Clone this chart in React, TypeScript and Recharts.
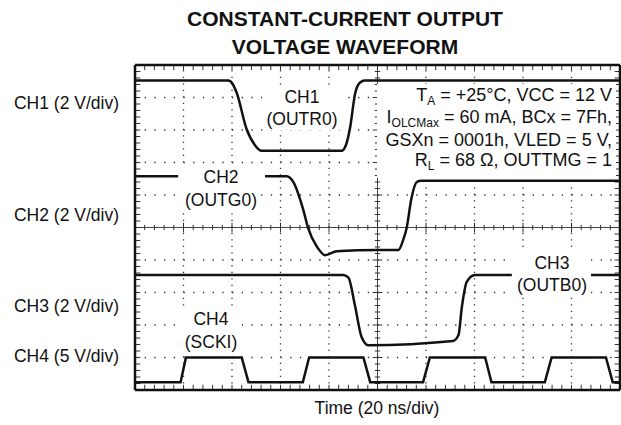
import React from "react";
import { LineChart, Line, XAxis, YAxis, ReferenceLine } from "recharts";

// Time axis in divisions (20 ns/div), amplitude in screen divisions (0 = bottom)
const ch1 = [
  { t: 0, v: 9.52 }, { t: 1.92, v: 9.52 }, { t: 2.02, v: 9.4 }, { t: 2.1, v: 9.13 },
  { t: 2.3, v: 8.03 }, { t: 2.47, v: 7.54 }, { t: 2.61, v: 7.36 }, { t: 4.26, v: 7.36 },
  { t: 4.35, v: 7.54 }, { t: 4.43, v: 8.03 }, { t: 4.54, v: 9.13 }, { t: 4.64, v: 9.46 },
  { t: 4.74, v: 9.52 }, { t: 10, v: 9.52 },
];
const ch2 = [
  { t: 0, v: 6.58 }, { t: 0.89, v: 6.58 }, { t: 1.8, v: null },
  { t: 2.68, v: 6.58 }, { t: 3.13, v: 6.58 }, { t: 3.26, v: 6.41 }, { t: 3.47, v: 5.54 },
  { t: 3.57, v: 4.98 }, { t: 3.75, v: 4.41 }, { t: 3.92, v: 4.15 }, { t: 4.16, v: 4.27 },
  { t: 4.6, v: 4.3 }, { t: 5.43, v: 4.31 }, { t: 5.53, v: 4.62 }, { t: 5.6, v: 4.98 },
  { t: 5.7, v: 5.9 }, { t: 5.81, v: 6.4 }, { t: 5.9, v: 6.44 }, { t: 10, v: 6.44 },
];
const ch3 = [
  { t: 0, v: 3.54 }, { t: 4.29, v: 3.54 }, { t: 4.4, v: 3.46 }, { t: 4.54, v: 2.56 },
  { t: 4.67, v: 1.64 }, { t: 4.81, v: 1.38 }, { t: 6.56, v: 1.51 }, { t: 6.67, v: 1.69 },
  { t: 6.74, v: 2.56 }, { t: 6.84, v: 3.33 }, { t: 7.01, v: 3.54 }, { t: 7.77, v: 3.54 },
  { t: 8.5, v: null }, { t: 9.38, v: 3.54 }, { t: 10, v: 3.54 },
];
const ch4 = [
  { t: 0, v: 0.24 }, { t: 0.94, v: 0.24 }, { t: 1.05, v: 1.0 }, { t: 2.2, v: 1.0 },
  { t: 2.34, v: 0.24 }, { t: 3.46, v: 0.24 }, { t: 3.59, v: 1.0 }, { t: 4.71, v: 1.0 },
  { t: 4.85, v: 0.24 }, { t: 5.94, v: 0.24 }, { t: 6.08, v: 1.0 }, { t: 7.22, v: 1.0 },
  { t: 7.35, v: 0.24 }, { t: 8.45, v: 0.24 }, { t: 8.59, v: 1.0 }, { t: 9.71, v: 1.0 },
  { t: 9.85, v: 0.24 }, { t: 10, v: 0.24 },
];

const gridDivs = [1, 2, 3, 4, 6, 7, 8, 9];
const frameEdges = [0, 10];
const minorTicks = Array.from({ length: 51 }, (_, i) => +(i * 0.2).toFixed(1));

const titleLines = ["CONSTANT-CURRENT OUTPUT", "VOLTAGE WAVEFORM"];
const channelLabels = ["CH1 (2 V/div)", "CH2 (2 V/div)", "CH3 (2 V/div)", "CH4 (5 V/div)"];
const traceLabels = [
  ["CH1", "(OUTR0)"],
  ["CH2", "(OUTG0)"],
  ["CH3", "(OUTB0)"],
  ["CH4", "(SCKI)"],
];
const xLabel = "Time (20 ns/div)";

const FONT = '"Liberation Sans", Arial, Helvetica, sans-serif';

function T({ x, y, align = "center", size = 15, bold = false, children }: any) {
  const tx = align === "center" ? "-50%" : align === "right" ? "-100%" : "0";
  return (
    <div
      style={{
        position: "absolute",
        left: x,
        top: y,
        transform: `translate(${tx}, -50%)`,
        fontSize: size,
        fontWeight: bold ? 700 : 400,
        whiteSpace: "nowrap",
        lineHeight: 1,
        color: "#111",
        textAlign: align,
      }}
    >
      {children}
    </div>
  );
}

function LabelBox({ x, y, lines }: any) {
  return (
    <div
      style={{
        position: "absolute",
        left: x,
        top: y,
        transform: "translate(-50%, -50%)",
        background: "#fff",
        padding: "0px 4px",
        fontSize: 17.5,
        lineHeight: "22.5px",
        textAlign: "center",
        whiteSpace: "nowrap",
        color: "#111",
      }}
    >
      {lines.map((l: string) => (
        <div key={l}>{l}</div>
      ))}
    </div>
  );
}

const subStyle = { fontSize: 12, verticalAlign: -4 } as const;

export default function App() {
  const ax = { xAxisId: "g", yAxisId: "g" } as const;
  const tickC = "#333";
  const isMajor = (m: number) => Number.isInteger(m);
  return (
    <div style={{ position: "absolute", left: 0, top: 0, width: 621, height: 425, background: "#fff", fontFamily: FONT }}>
      <LineChart width={621} height={425} data={ch1} margin={{ top: 65, right: 1, bottom: 35, left: 135 }}>
        <XAxis xAxisId="g" dataKey="t" type="number" domain={[0, 10]} height={0} tick={false} tickLine={false} axisLine={false} allowDataOverflow />
        <YAxis yAxisId="g" type="number" domain={[0, 10]} width={0} tick={false} tickLine={false} axisLine={false} allowDataOverflow />

        {gridDivs.map((d) => (
          <ReferenceLine key={"gx" + d} {...ax} x={d} stroke="#333" strokeWidth={1.3} strokeDasharray="1.3 5.2" />
        ))}
        {gridDivs.map((d) => (
          <ReferenceLine key={"gy" + d} {...ax} y={d} stroke="#333" strokeWidth={1.3} strokeDasharray="1.3 8.4" />
        ))}
        <ReferenceLine {...ax} x={5} stroke="#444" strokeWidth={1} />
        <ReferenceLine {...ax} y={5} stroke="#444" strokeWidth={1} />

        {minorTicks.map((m) => (
          <ReferenceLine key={"hx" + m} {...ax} stroke={tickC} strokeWidth={1}
            segment={[{ x: m, y: isMajor(m) ? 4.85 : 4.92 }, { x: m, y: isMajor(m) ? 5.15 : 5.08 }]} />
        ))}
        {minorTicks.map((m) => (
          <ReferenceLine key={"vy" + m} {...ax} stroke={tickC} strokeWidth={1}
            segment={[{ x: isMajor(m) ? 4.9 : 4.945, y: m }, { x: isMajor(m) ? 5.1 : 5.055, y: m }]} />
        ))}
        {minorTicks.map((m) => (
          <ReferenceLine key={"bt" + m} {...ax} stroke={tickC} strokeWidth={1}
            segment={[{ x: m, y: 0 }, { x: m, y: 0.16 }]} />
        ))}
        {minorTicks.map((m) => (
          <ReferenceLine key={"tp" + m} {...ax} stroke={tickC} strokeWidth={1}
            segment={[{ x: m, y: 10 }, { x: m, y: 9.84 }]} />
        ))}
        {minorTicks.map((m) => (
          <ReferenceLine key={"lf" + m} {...ax} stroke={tickC} strokeWidth={1}
            segment={[{ x: 0, y: m }, { x: 0.11, y: m }]} />
        ))}
        {minorTicks.map((m) => (
          <ReferenceLine key={"rt" + m} {...ax} stroke={tickC} strokeWidth={1}
            segment={[{ x: 10, y: m }, { x: 9.89, y: m }]} />
        ))}
        {frameEdges.map((e) => (
          <ReferenceLine key={"fx" + e} {...ax} x={e} stroke="#111" strokeWidth={2.5} />
        ))}
        {frameEdges.map((e) => (
          <ReferenceLine key={"fy" + e} {...ax} y={e} stroke="#111" strokeWidth={2.5} />
        ))}

        <Line {...ax} data={ch1} dataKey="v" type="monotone" stroke="#111" strokeWidth={2.5} dot={false} isAnimationActive={false} />
        <Line {...ax} data={ch2} dataKey="v" type="monotone" stroke="#111" strokeWidth={2.5} dot={false} isAnimationActive={false} connectNulls={false} />
        <Line {...ax} data={ch3} dataKey="v" type="monotone" stroke="#111" strokeWidth={2.5} dot={false} isAnimationActive={false} connectNulls={false} />
        <Line {...ax} data={ch4} dataKey="v" type="linear" stroke="#111" strokeWidth={2.5} dot={false} isAnimationActive={false} />
      </LineChart>

      <T x={345} y={18} size={21} bold>{titleLines[0]}</T>
      <T x={345} y={46} size={21} bold>{titleLines[1]}</T>

      <T x={119} y={104} align="right" size={17.5}>{channelLabels[0]}</T>
      <T x={119} y={216} align="right" size={17.5}>{channelLabels[1]}</T>
      <T x={119} y={307} align="right" size={17.5}>{channelLabels[2]}</T>
      <T x={119} y={357} align="right" size={17.5}>{channelLabels[3]}</T>

      <LabelBox x={302} y={107.5} lines={traceLabels[0]} />
      <LabelBox x={221} y={188} lines={traceLabels[1]} />
      <LabelBox x={552} y={273.5} lines={traceLabels[2]} />
      <LabelBox x={211} y={330} lines={traceLabels[3]} />

      <div style={{ position: "absolute", left: 377, top: 84, width: 239, height: 94, background: "#fff" }}>
        <T x={235} y={12} align="right" size={18}>T<sub style={subStyle}>A</sub> = +25°C, VCC = 12 V</T>
        <T x={235} y={34} align="right" size={18}>I<sub style={subStyle}>OLCMax</sub> = 60 mA, BCx = 7Fh,</T>
        <T x={235} y={56} align="right" size={18}>GSXn = 0001h, VLED = 5 V,</T>
        <T x={235} y={77} align="right" size={18}>R<sub style={subStyle}>L</sub> = 68 Ω, OUTTMG = 1</T>
      </div>

      <T x={377} y={409} size={17.5}>{xLabel}</T>
    </div>
  );
}
